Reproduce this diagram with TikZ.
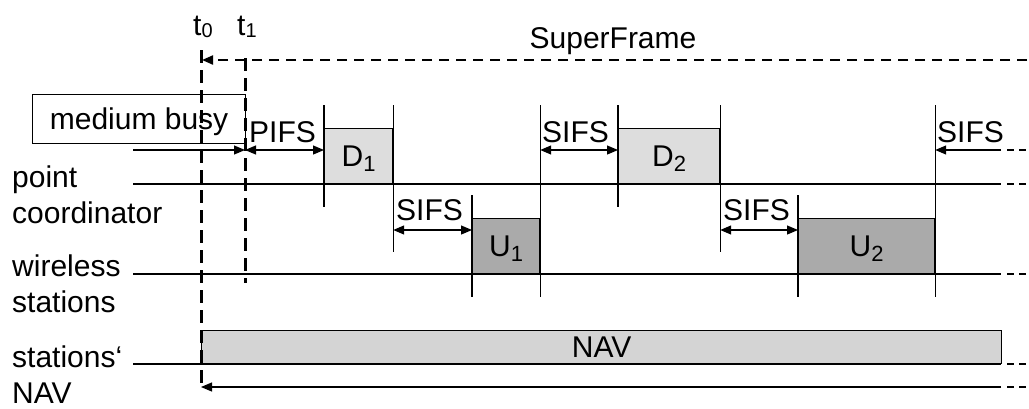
\documentclass[tikz,border=0pt]{standalone}
\usepackage{fontspec}
\setmainfont{Liberation Sans}
\usetikzlibrary{arrows.meta}
\definecolor{dgray}{RGB}{221,221,221}
\definecolor{ugray}{RGB}{170,170,170}
\definecolor{navgray}{RGB}{212,212,212}
\newcommand{\idx}[3][5pt]{\raisebox{-#1}{\fontsize{#2}{#2}\selectfont #3}}
\tikzset{
  txt/.style={font=\fontsize{30}{36}\selectfont, inner sep=0pt},
  axis/.style={line width=1.2pt},
  tail/.style={line width=1.2pt, dash pattern=on 7pt off 5pt},
  tick/.style={line width=1.2pt},
  tip/.style={line width=1.2pt, -{Triangle[length=11pt,width=9pt]}},
  span/.style={line width=1.2pt, {Triangle[length=11pt,width=9pt]}-{Triangle[length=11pt,width=9pt]}},
  slot/.style={draw, line width=1.2pt, inner sep=0pt, text depth=0pt, font=\fontsize{30}{36}\selectfont},
  timeline/.style={line width=3pt, dash pattern=on 13pt off 7pt},
}
\begin{document}
\begin{tikzpicture}[x=1pt,y=-1pt]
    \useasboundingbox (0,0) rectangle (1029,408);
    % levels
    \coordinate (hiT) at (0,105);
    \coordinate (loD) at (0,207);
    \coordinate (loT) at (0,252);
    \coordinate (midT) at (0,195);
    \coordinate (bot) at (0,297);
    \coordinate (upA) at (0,150);
    \coordinate (lowA) at (0,230);
    % time slots
    \node[slot, minimum width=213pt, minimum height=49pt, anchor=north west] (busy) at (32,94) {medium busy};
    \node[slot, fill=dgray, minimum width=68pt, minimum height=56pt, anchor=north west] (d1) at (324,128) {D\idx{22}{1}};
    \node[slot, fill=ugray, minimum width=67pt, minimum height=56pt, anchor=north west] (u1) at (472,218) {U\idx{22}{1}};
    \node[slot, fill=dgray, minimum width=101pt, minimum height=56pt, anchor=north west] (d2) at (618,128) {D\idx{22}{2}};
    \node[slot, fill=ugray, minimum width=136pt, minimum height=56pt, anchor=north west] (u2) at (798,218) {U\idx{22}{2}};
    \node[slot, fill=navgray, minimum width=800pt, minimum height=33pt, anchor=south west] (nav) at (201,364) {NAV};
    % axes
    \coordinate (pcL) at (133,184);
    \coordinate (pcR) at (1001,184);
    \coordinate (wsL) at (133,274);
    \coordinate (wsR) at (1001,274);
    \coordinate (nvL) at (133,364);
    \coordinate (nvR) at (1001,364);
    \draw[axis] (pcL) -- (pcR);
    \draw[axis] (wsL) -- (wsR);
    \draw[axis] (nvL) -- (nvR);
    \draw[tail] (1007,184) -- (1029,184);
    \draw[tail] (1007,274) -- (1029,274);
    \draw[tail] (1007,364) -- (1029,364);
    % ticks
    \draw[tick] (d1.west |- hiT) -- (d1.west |- loD);
    \draw[tick] (d1.east |- hiT) -- (d1.east |- loT);
    \draw[tick] (u1.west |- midT) -- (u1.west |- bot);
    \draw[tick] (u1.east |- hiT) -- (u1.east |- bot);
    \draw[tick] (d2.west |- hiT) -- (d2.west |- loD);
    \draw[tick] (d2.east |- hiT) -- (d2.east |- loT);
    \draw[tick] (u2.west |- midT) -- (u2.west |- bot);
    \draw[tick] (u2.east |- hiT) -- (u2.east |- bot);
    % t0 and t1
    \coordinate (t0top) at (201,50);
    \coordinate (t0bot) at (201,387);
    \coordinate (t1top) at (245,58);
    \coordinate (t1bot) at (245,283);
    \draw[timeline] (t0top) -- (t0bot);
    \draw[timeline] (t1top) -- (t1bot);
    \node[txt, anchor=base west] (t0lbl) at (193,35) {t\idx[2pt]{20}{0}};
    \node[txt, anchor=base west] (t1lbl) at (237,35) {t\idx[2pt]{20}{1}};
    % superframe
    \coordinate (sfR) at (1027,60);
    \coordinate (sfL) at (202,60);
    \draw[tip, line width=2pt, dash pattern=on 10pt off 7pt] (sfR) -- (sfL);
    \node[txt, anchor=base] (sf) at (613,48) {SuperFrame};
    % interframe spaces
    \coordinate (busyL) at (133,150);
    \draw[tip] (busyL) -- (t1top |- upA);
    \draw[span] (t1top |- upA) -- (d1.west |- upA);
    \node[txt, anchor=base west] (pifs) at (249,142) {PIFS};
    \draw[span] (d1.east |- lowA) -- (u1.west |- lowA);
    \node[txt, anchor=base west] (sifs1) at (396,220) {SIFS};
    \draw[span] (u1.east |- upA) -- (d2.west |- upA);
    \node[txt, anchor=base west] (sifs2) at (542,142) {SIFS};
    \draw[span] (d2.east |- lowA) -- (u2.west |- lowA);
    \node[txt, anchor=base west] (sifs3) at (723,220) {SIFS};
    \coordinate (sfsR) at (1001,150);
    \draw[tip] (sfsR) -- (u2.east |- upA);
    \draw[tail] (1007,150) -- (1029,150);
    \node[txt, anchor=base west] (sifs4) at (937,142) {SIFS};
    % NAV duration
    \coordinate (navR) at (1001,387);
    \draw[tip] (navR) -- (t0bot);
    \draw[tail] (1007,387) -- (1029,387);
    % row labels
    \node[txt, anchor=base west] (pc1) at (12,187) {point};
    \node[txt, anchor=base west] (pc2) at (12,223) {coordinator};
    \node[txt, anchor=base west] (ws1) at (12,276) {wireless};
    \node[txt, anchor=base west] (ws2) at (12,312) {stations};
    \node[txt, anchor=base west] (nv1) at (12,367) {stations‘};
    \node[txt, anchor=base west] (nv2) at (12,403) {NAV};
\end{tikzpicture}
\end{document}
